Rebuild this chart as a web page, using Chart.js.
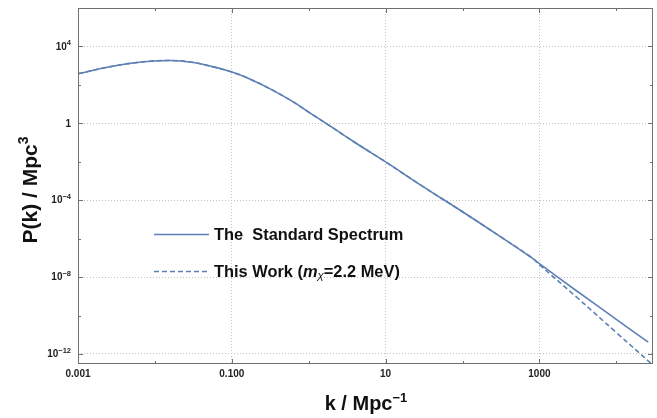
<!DOCTYPE html>
<html>
<head>
<meta charset="utf-8">
<script src="https://cdn.jsdelivr.net/npm/chart.js@4.4.1/dist/chart.umd.min.js"></script>
<style>
  html, body { margin: 0; padding: 0; background: #fff; }
  #wrap { width: 657px; height: 418px; }
</style>
</head>
<body>
<div id="wrap"><canvas id="myChart"></canvas></div>
<script>
// values (k in 1/Mpc, P in Mpc^3)
var kValues   = [0.001, 0.0025, 0.0063, 0.016, 0.032, 0.056, 0.1, 0.16, 0.32, 0.63, 1, 2, 4, 10, 30, 100, 300, 800, 1000, 3000, 10000, 26000];
var standardP = [380, 850, 1510, 1860, 1450, 890, 470, 230, 60, 13, 3.8, 0.63, 0.10, 9.8e-3, 5.4e-4, 2.5e-5, 1.4e-6, 1.0e-7, 5.0e-8, 2.0e-9, 6.3e-11, 4.1e-12];
var workK     = [0.001, 0.0025, 0.0063, 0.016, 0.032, 0.056, 0.1, 0.16, 0.32, 0.63, 1, 2, 4, 10, 30, 100, 300, 800, 1000, 3000, 10000, 30000];
var thisWorkP = [380, 850, 1510, 1860, 1450, 890, 470, 230, 60, 13, 3.8, 0.63, 0.10, 9.8e-3, 5.4e-4, 2.5e-5, 1.4e-6, 1.0e-7, 4.4e-8, 9.5e-10, 1.3e-11, 2.6e-13];

var seriesLabels = ['The  Standard Spectrum', 'This Work'];
var xTickValues = [0.001, 0.01, 0.1, 1, 10, 100, 1000, 10000];
var xTickLabels = ['0.001', '', '0.100', '', '10', '', '1000', ''];
var yTickExponents = [-12, -10, -8, -6, -4, -2, 0, 2, 4];

var lineColor = '#5E81B5';
var FONT = '"Liberation Sans", Arial, sans-serif';

function toPoints(ks, ys) {
  return ks.map(function(k, i){ return {x: k, y: ys[i]}; });
}

// draw a row of text pieces (for super/subscripts), left aligned at x
function richWidth(ctx, parts) {
  var w = 0;
  parts.forEach(function(p){ ctx.font = p.font; w += ctx.measureText(p.text).width; });
  return w;
}
function drawRich(ctx, parts, x, y) {
  parts.forEach(function(p){
    ctx.font = p.font;
    ctx.fillText(p.text, x, y + (p.dy || 0));
    x += ctx.measureText(p.text).width;
  });
}

var framePlugin = {
  id: 'frame',
  afterDraw: function(chart) {
    var ctx = chart.ctx, a = chart.chartArea;
    var xs = chart.scales.x, ys = chart.scales.y;
    ctx.save();

    // frame
    ctx.strokeStyle = '#707070';
    ctx.lineWidth = 1;
    ctx.strokeRect(a.left + 0.5, a.top + 0.5, a.right - a.left - 1, a.bottom - a.top - 1);

    // ticks, pointing inward on all four sides
    ctx.beginPath();
    xs.ticks.forEach(function(t, i){
      var px = Math.round(xs.getPixelForValue(t.value)) + 0.5;
      var len = xTickLabels[i] ? 5 : 3;
      ctx.moveTo(px, a.bottom); ctx.lineTo(px, a.bottom - len);
      ctx.moveTo(px, a.top); ctx.lineTo(px, a.top + len);
    });
    ys.ticks.forEach(function(t){
      var e = Math.round(Math.log10(t.value));
      var py = Math.round(ys.getPixelForValue(t.value)) + 0.5;
      var len = (e % 4 === 0) ? 5 : 3;
      ctx.moveTo(a.left, py); ctx.lineTo(a.left + len, py);
      ctx.moveTo(a.right, py); ctx.lineTo(a.right - len, py);
    });
    ctx.stroke();

    // x tick labels
    ctx.fillStyle = '#222';
    ctx.textBaseline = 'middle';
    ctx.textAlign = 'center';
    ctx.font = 'bold 10px ' + FONT;
    xs.ticks.forEach(function(t, i){
      if (!xTickLabels[i]) return;
      ctx.fillText(xTickLabels[i], xs.getPixelForValue(t.value), a.bottom + 10);
    });

    // y tick labels 10^n
    ctx.textAlign = 'left';
    ys.ticks.forEach(function(t){
      var e = Math.round(Math.log10(t.value));
      if (e % 4 !== 0) return;
      var py = ys.getPixelForValue(t.value);
      var parts = e === 0 ? [{text: '1', font: 'bold 10px ' + FONT}]
        : [{text: '10', font: 'bold 10px ' + FONT},
           {text: (e < 0 ? '\u2212' : '') + Math.abs(e), font: 'bold 7.5px ' + FONT, dy: -4}];
      var w = richWidth(ctx, parts);
      drawRich(ctx, parts, 71 - w, py + 0.5);
    });

    // axis titles
    ctx.fillStyle = '#111';
    var xt = [{text: 'k / Mpc', font: 'bold 20px ' + FONT},
              {text: '\u22121', font: 'bold 13px ' + FONT, dy: -8}];
    ctx.textBaseline = 'alphabetic';
    drawRich(ctx, xt, 366 - richWidth(ctx, xt) / 2, 410);

    var yt = [{text: 'P(k) / Mpc', font: 'bold 21px ' + FONT},
              {text: '3', font: 'bold 14px ' + FONT, dy: -9}];
    ctx.save();
    ctx.translate(37, 190);
    ctx.rotate(-Math.PI / 2);
    drawRich(ctx, yt, -richWidth(ctx, yt) / 2, 0);
    ctx.restore();

    // legend inside the frame
    var rows = [
      {y: 234, parts: [{text: seriesLabels[0], font: 'bold 16.4px ' + FONT}]},
      {y: 271, parts: [{text: seriesLabels[1] + ' (', font: 'bold 16.4px ' + FONT},
                       {text: 'm', font: 'italic bold 16.4px ' + FONT},
                       {text: '\u03c7', font: 'italic 11.5px ' + FONT, dy: 4},
                       {text: '=2.2 MeV)', font: 'bold 16.4px ' + FONT}]}
    ];
    rows.forEach(function(r, i){
      var ds = chart.data.datasets[i];
      ctx.strokeStyle = ds.borderColor;
      ctx.lineWidth = ds.borderWidth;
      ctx.setLineDash(ds.borderDash || []);
      ctx.beginPath();
      ctx.moveTo(154, r.y + 0.5); ctx.lineTo(209, r.y + 0.5);
      ctx.stroke();
      ctx.setLineDash([]);
      ctx.fillStyle = '#111';
      ctx.textBaseline = 'middle';
      drawRich(ctx, r.parts, 214, r.y + 1);
    });

    ctx.restore();
  }
};

var ctx = document.getElementById('myChart');
var powerChart = new Chart(ctx, {
  type: 'line',
  data: {
    datasets: [{
      label: seriesLabels[0],
      data: toPoints(kValues, standardP),
      borderColor: lineColor,
      borderWidth: 1.6,
      pointRadius: 0,
      tension: 0.4
    }, {
      label: seriesLabels[1],
      data: toPoints(workK, thisWorkP),
      borderColor: lineColor,
      borderWidth: 1.6,
      borderDash: [5, 3],
      pointRadius: 0,
      tension: 0.4
    }]
  },
  options: {
    responsive: true,
    maintainAspectRatio: false,
    animation: false,
    events: [],
    layout: { padding: { left: 78, right: 4, top: 8, bottom: 54 } },
    plugins: { legend: { display: false }, tooltip: { enabled: false } },
    scales: {
      x: {
        type: 'logarithmic',
        min: 0.001,
        max: 30000,
        afterBuildTicks: function(s){ s.ticks = xTickValues.map(function(v){ return {value: v}; }); },
        ticks: { display: false },
        grid: {
          drawTicks: false,
          color: function(c){ return (c.tick && xTickLabels[c.index]) ? '#c4c4c4' : 'transparent'; }
        },
        border: { display: false, dash: [1, 2] }
      },
      y: {
        type: 'logarithmic',
        min: 3.2e-13,
        max: 1e6,
        afterBuildTicks: function(s){ s.ticks = yTickExponents.map(function(e){ return {value: Math.pow(10, e)}; }); },
        ticks: { display: false },
        grid: {
          drawTicks: false,
          color: function(c){
            if (!c.tick) return 'transparent';
            var e = Math.round(Math.log10(c.tick.value));
            return e % 4 === 0 ? '#c4c4c4' : 'transparent';
          }
        },
        border: { display: false, dash: [1, 2] }
      }
    }
  },
  plugins: [framePlugin]
});
</script>
</body>
</html>
